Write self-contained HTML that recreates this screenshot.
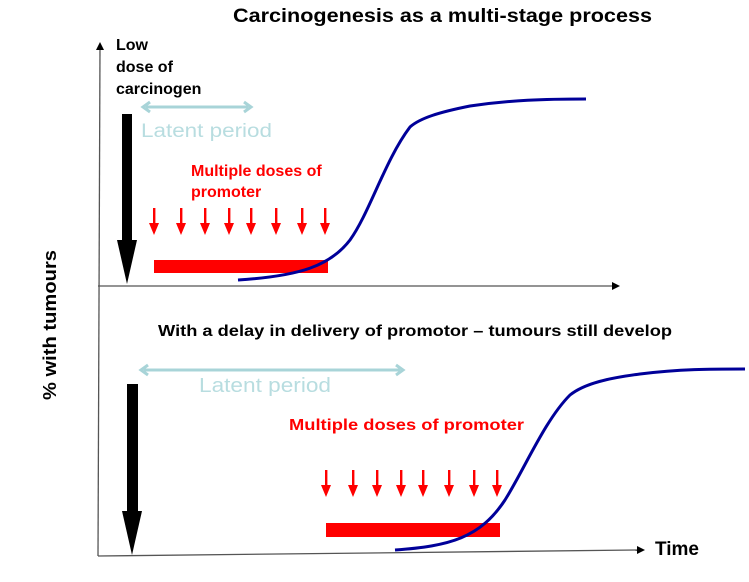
<!DOCTYPE html>
<html><head><meta charset="utf-8"><style>
html,body{margin:0;padding:0;background:#fff;width:749px;height:582px;overflow:hidden}
svg{display:block}
text{font-family:"Liberation Sans",sans-serif;font-weight:bold}
text.lat{font-weight:normal}
</style></head><body>
<svg width="749" height="582" viewBox="0 0 749 582" xmlns="http://www.w3.org/2000/svg">
<text x="233" y="22" font-size="19" textLength="419" lengthAdjust="spacingAndGlyphs">Carcinogenesis as a multi-stage process</text>

<line x1="98" y1="556" x2="100" y2="46" stroke="#555" stroke-width="1.3"/>
<path d="M96,50 L100,42 L104,50 z" fill="#000"/>
<line x1="98" y1="286" x2="612" y2="286" stroke="#555" stroke-width="1.3"/>
<path d="M612,282 L620,286 L612,290 z" fill="#000"/>
<line x1="98" y1="556" x2="638" y2="550" stroke="#555" stroke-width="1.3"/>
<path d="M637,546 L645,550 L637,554 z" fill="#000"/>
<text x="655" y="555" font-size="19">Time</text>
<text transform="translate(56,325) rotate(-90)" text-anchor="middle" font-size="18" textLength="150" lengthAdjust="spacingAndGlyphs">% with tumours</text>

<text font-size="16"><tspan x="116" y="50">Low</tspan><tspan x="116" y="72">dose of</tspan><tspan x="116" y="94">carcinogen</tspan></text>
<rect x="122" y="114" width="10" height="127" fill="#000"/>
<path d="M117,240 L137,240 L127,284 z" fill="#000"/>
<line x1="146" y1="107" x2="248" y2="107" stroke="#a8d4d8" stroke-width="3"/>
<path d="M150,102 L143,107 L150,112" fill="none" stroke="#a8d4d8" stroke-width="3"/>
<path d="M244,102 L251,107 L244,112" fill="none" stroke="#a8d4d8" stroke-width="3"/>
<text class="lat" x="141" y="137" font-size="19" fill="#b8dde0" textLength="131" lengthAdjust="spacingAndGlyphs">Latent period</text>
<text font-size="16" fill="#f00"><tspan x="191" y="176">Multiple doses of</tspan><tspan x="191" y="197">promoter</tspan></text>
<g fill="#f00">
<rect x="153" y="208" width="2.4" height="18"/><path d="M149,223 L159,223 L154,235 z"/>
<rect x="180" y="208" width="2.4" height="18"/><path d="M176,223 L186,223 L181,235 z"/>
<rect x="204" y="208" width="2.4" height="18"/><path d="M200,223 L210,223 L205,235 z"/>
<rect x="228" y="208" width="2.4" height="18"/><path d="M224,223 L234,223 L229,235 z"/>
<rect x="250" y="208" width="2.4" height="18"/><path d="M246,223 L256,223 L251,235 z"/>
<rect x="275" y="208" width="2.4" height="18"/><path d="M271,223 L281,223 L276,235 z"/>
<rect x="301" y="208" width="2.4" height="18"/><path d="M297,223 L307,223 L302,235 z"/>
<rect x="324" y="208" width="2.4" height="18"/><path d="M320,223 L330,223 L325,235 z"/>
<rect x="154" y="260" width="174" height="13"/>
</g>
<path d="M238,280 C300,276 330,266 350,240 C370,212 385,160 410,127 C420,118 440,112 470,106 C510,100 545,99 586,99" fill="none" stroke="#000099" stroke-width="3"/>

<text x="158" y="336" font-size="16" textLength="514" lengthAdjust="spacingAndGlyphs">With a delay in delivery of promotor – tumours still develop</text>
<line x1="144" y1="370" x2="400" y2="370" stroke="#a8d4d8" stroke-width="3"/>
<path d="M148,365 L141,370 L148,375" fill="none" stroke="#a8d4d8" stroke-width="3"/>
<path d="M396,365 L403,370 L396,375" fill="none" stroke="#a8d4d8" stroke-width="3"/>
<text class="lat" x="199" y="392" font-size="20" fill="#b8dde0" textLength="132" lengthAdjust="spacingAndGlyphs">Latent period</text>
<rect x="127" y="384" width="11" height="128" fill="#000"/>
<path d="M122,511 L142,511 L132,555 z" fill="#000"/>
<text x="289" y="430" font-size="16" fill="#f00" textLength="235" lengthAdjust="spacingAndGlyphs">Multiple doses of promoter</text>
<g fill="#f00">
<rect x="325" y="470" width="2.4" height="18"/><path d="M321,485 L331,485 L326,497 z"/>
<rect x="352" y="470" width="2.4" height="18"/><path d="M348,485 L358,485 L353,497 z"/>
<rect x="376" y="470" width="2.4" height="18"/><path d="M372,485 L382,485 L377,497 z"/>
<rect x="400" y="470" width="2.4" height="18"/><path d="M396,485 L406,485 L401,497 z"/>
<rect x="422" y="470" width="2.4" height="18"/><path d="M418,485 L428,485 L423,497 z"/>
<rect x="448" y="470" width="2.4" height="18"/><path d="M444,485 L454,485 L449,497 z"/>
<rect x="473" y="470" width="2.4" height="18"/><path d="M469,485 L479,485 L474,497 z"/>
<rect x="496" y="470" width="2.4" height="18"/><path d="M492,485 L502,485 L497,497 z"/>
<rect x="326" y="523" width="174" height="14"/>
</g>
<path d="M395,550 C450,546 480,538 505,500 C525,468 545,420 570,395 C585,383 610,378 640,374 C680,369 710,369 745,369" fill="none" stroke="#000099" stroke-width="3"/>
</svg>
</body></html>
